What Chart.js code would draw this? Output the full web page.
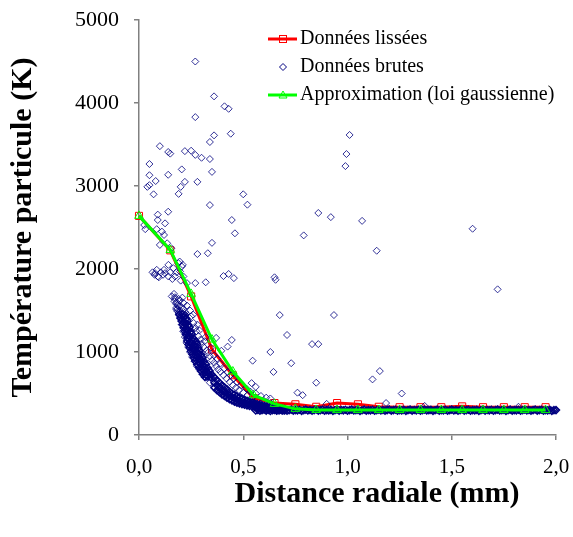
<!DOCTYPE html>
<html lang="fr">
<head>
<meta charset="UTF-8">
<title>Température particule</title>
<script src="https://cdn.jsdelivr.net/npm/chart.js"></script>
<style>
  body { margin: 0; background: #ffffff; }
  #chart { display: block; }
</style>
</head>
<body>
<canvas id="chart" width="573" height="537"></canvas>
<script>
// Axes
const xTicks = [0, 0.5, 1, 1.5, 2];
const xTickLabels = ['0,0', '0,5', '1,0', '1,5', '2,0'];
const yTicks = [0, 1000, 2000, 3000, 4000, 5000];
const yTickLabels = ['0', '1000', '2000', '3000', '4000', '5000'];

// Données lissées
const smoothX = [0, 0.15, 0.25, 0.35, 0.45, 0.55, 0.65, 0.75, 0.85, 0.95, 1.05, 1.15, 1.25, 1.35, 1.45, 1.55, 1.65, 1.75, 1.85, 1.95];
const smoothY = [2640, 2225, 1670, 1030, 720, 445, 385, 370, 340, 385, 370, 340, 335, 335, 335, 345, 335, 335, 335, 335];

// Approximation (loi gaussienne)
const gaussX = smoothX;
const gaussY = [2640, 2230, 1700, 1150, 765, 480, 375, 315, 302, 300, 300, 300, 300, 300, 300, 300, 300, 300, 300, 300];

// Données brutes : points isolés
const rawSparse = [
  [0.27,4500],[0.36,4080],[0.41,3960],[0.43,3930],[0.27,3830],[0.36,3610],[0.44,3630],[0.34,3530],
  [0.10,3480],[0.14,3410],[0.15,3390],[0.22,3420],[0.25,3425],[0.27,3375],[0.30,3340],[0.34,3325],
  [0.05,3265],[0.205,3200],[0.35,3170],[0.05,3130],[0.14,3135],[0.08,3060],[0.05,3010],[0.04,2990],
  [0.22,3050],[0.20,2990],[0.19,2905],[0.28,3050],[0.07,2900],[0.50,2900],[0.52,2775],[0.34,2770],
  [0.14,2690],[0.09,2655],[0.09,2590],[0.125,2550],[0.445,2590],[0.03,2480],[0.025,2530],[0.085,2480],
  [0.11,2450],[0.12,2410],[0.46,2430],
  [1.01,3615],[0.995,3385],[0.99,3240],[0.86,2675],[0.92,2625],[1.07,2580],[0.79,2405],[1.60,2485],
  [1.14,2220],[1.72,1755],[0.935,1445],[0.83,1095],[0.86,1095],[1.155,770],[1.12,670],[0.85,630],
  [0.65,1900],[0.655,1870],[0.675,1445],[0.71,1205],[0.63,1000],[0.73,865],[0.645,760],[0.76,510],
  [0.785,480],[0.63,440],[0.90,375],[1.185,385],[1.26,500],[1.37,350],[1.82,340],
  [0.35,2315],[0.28,2180],[0.33,2190],[0.405,1915],[0.43,1940],[0.455,1890],[0.32,1840],[0.27,1830],
  [0.445,1145],[0.425,1065],[0.37,1170],[0.545,895],[0.395,1015],[0.54,625],[0.56,580]
];

// Données brutes : amas vers 2000 K
const rawCluster = [
  [0.065,1960],[0.075,1930],[0.085,1990],[0.095,1900],[0.105,1960],[0.115,1930],[0.12,1990],[0.125,1950],
  [0.141,2050],[0.165,2010],[0.141,1910],[0.189,2070],[0.205,2030],[0.197,1970],[0.173,1910],[0.213,1910],
  [0.077,1950],[0.09,1910],[0.10,2290],[0.135,2310],[0.155,2250],[0.195,2090],[0.21,2050],[0.23,1830],
  [0.157,1670],[0.17,1610],[0.18,1510],[0.185,1490],[0.19,1550],[0.15,1960],[0.18,1960],[0.16,1880],[0.20,1860]
];

// Données brutes : points clairsemés autour de la bande
const rawHalo = [
  [0.172,1660],[0.19,1640],[0.208,1655],[0.18,1600],[0.197,1620],[0.214,1590],[0.186,1565],[0.203,1545],
  [0.178,1530],[0.195,1500],[0.212,1515],[0.222,1480],[0.20,1470],
  [0.23,1560],[0.245,1500],[0.25,1430],[0.262,1350],[0.27,1290],[0.275,1250],[0.285,1190],[0.295,1150],
  [0.30,1100],[0.31,1060],[0.325,1020],[0.33,990],[0.34,950],[0.35,900],[0.36,870],[0.37,830],
  [0.38,790],[0.39,760],[0.405,720],[0.42,680],[0.435,640],[0.45,600],[0.465,570],[0.48,540],
  [0.50,510],[0.52,480],[0.545,460],[0.57,430],[0.60,410],[0.63,385],
  [0.26,1450],[0.28,1330],[0.29,1260],[0.315,1130],[0.32,1180],[0.345,1050],[0.36,960],[0.375,920],
  [0.39,860],[0.41,800],[0.425,760],[0.44,720],[0.455,680],[0.47,640],[0.49,600],[0.515,560],
  [0.535,520],[0.56,500],[0.585,470],[0.61,450],
  [0.168,1700],[0.172,1640],[0.178,1580],[0.185,1520],[0.19,1470],[0.198,1420],[0.205,1330],[0.212,1250],
  [0.22,1180],[0.228,1110],[0.236,1060],[0.245,1000],[0.255,940],[0.266,890],[0.278,830],[0.29,790],
  [0.305,730],[0.32,690],[0.34,630],[0.36,580],[0.38,550],[0.40,520],[0.42,480],[0.44,440],
  [0.46,420],[0.49,385],[0.52,360],[0.56,335],[0.60,310],[0.64,295]
];

// Données brutes : coeur dense de la décroissance
const rawCore = [
  [0.193,1450],[0.207,1455],[0.221,1445],
  [0.199,1408],[0.213,1415],[0.227,1405],
  [0.204,1372],[0.218,1365],[0.232,1375],
  [0.209,1330],[0.223,1336],[0.237,1325],
  [0.214,1292],[0.228,1285],[0.242,1295],
  [0.22,1250],[0.234,1256],[0.248,1245],
  [0.225,1212],[0.239,1205],[0.253,1215],
  [0.232,1170],[0.246,1176],[0.26,1165],
  [0.231,1132],[0.245,1125],[0.259,1135],[0.273,1128],
  [0.237,1090],[0.251,1096],[0.265,1085],[0.279,1092],
  [0.243,1052],[0.257,1045],[0.271,1055],[0.285,1048],
  [0.249,1010],[0.263,1016],[0.277,1005],[0.291,1012],
  [0.256,972],[0.27,965],[0.284,975],[0.298,968],
  [0.263,930],[0.277,936],[0.291,925],[0.305,932],
  [0.27,892],[0.284,885],[0.298,895],[0.312,888],
  [0.279,850],[0.293,856],[0.307,845],[0.321,852],
  [0.288,812],[0.302,805],[0.316,815],[0.33,808],
  [0.297,770],[0.311,776],[0.325,765],[0.339,772],
  [0.307,732],[0.321,725],[0.335,735],[0.349,728],
  [0.316,700],[0.33,706],[0.344,695],[0.358,702],
  [0.362,570],[0.362,630],[0.362,690],
  [0.374,540],[0.374,600],[0.374,660],
  [0.386,515],[0.386,572],[0.386,630],
  [0.398,490],[0.398,545],[0.398,600],
  [0.41,470],[0.41,522],[0.41,575],
  [0.422,450],[0.422,500],[0.422,550],
  [0.434,430],[0.434,475],[0.434,520],
  [0.446,415],[0.446,458],[0.446,500],
  [0.458,402],[0.458,442],[0.458,485],
  [0.47,390],[0.47,425],[0.47,465],
  [0.482,380],[0.482,410],[0.482,450],
  [0.494,372],[0.494,400],[0.494,438],
  [0.506,364],[0.506,390],[0.506,425],
  [0.518,356],[0.518,382],[0.518,412],
  [0.53,350],[0.53,375],[0.53,402],
  [0.542,344],[0.542,367],[0.542,392],
  [0.554,338],[0.554,359],[0.554,383],
  [0.566,332],[0.566,352],[0.566,374],
  [0.578,326],[0.578,345],[0.578,365],
  [0.59,320],[0.59,339],[0.59,357],
  [0.602,316],[0.602,333],[0.602,350],
  [0.614,312],[0.614,328],[0.614,344],
  [0.626,308],[0.626,323],[0.626,338],
  [0.638,305],[0.638,319],[0.638,333],
  [0.65,302],[0.65,315],[0.65,328],
  [0.662,300],[0.662,312],[0.662,323],
  [0.674,298],[0.674,309],[0.674,319],
  [0.686,297],[0.686,306],[0.686,315],
  [0.698,296],[0.698,304],[0.698,312]
];

// Données brutes : palier vers 300 K
const rawFlat = [
  [0.56,296],[0.57,303],[0.58,292],[0.59,300],[0.60,306],[0.61,294],[0.62,301],[0.63,289],[0.64,298],[0.65,305],
  [0.66,293],[0.67,300],[0.68,307],[0.69,295],[0.70,301],[0.71,292],[0.72,299],[0.73,306],[0.74,294],[0.75,300],
  [0.76,297],[0.77,304],[0.78,291],[0.79,299],[0.80,306],[0.81,295],[0.82,301],[0.83,293],[0.84,300],[0.85,307],
  [0.86,294],[0.87,299],[0.88,305],[0.89,292],[0.90,300],[0.91,296],[0.92,303],[0.93,291],[0.94,299],[0.95,306],
  [0.96,294],[0.97,301],[0.98,297],[0.99,304],[1.00,292],[1.01,300],[1.02,306],[1.03,295],[1.04,299],[1.05,303],
  [1.06,291],[1.07,298],[1.08,305],[1.09,294],[1.10,300],[1.11,297],[1.12,304],[1.13,292],[1.14,299],[1.15,306],
  [1.16,295],[1.17,301],[1.18,293],[1.19,300],[1.20,307],[1.21,294],[1.22,299],[1.23,304],[1.24,292],[1.25,300],
  [1.26,296],[1.27,303],[1.28,291],[1.29,299],[1.30,306],[1.31,294],[1.32,301],[1.33,297],[1.34,304],[1.35,292],
  [1.36,300],[1.37,306],[1.38,295],[1.39,299],[1.40,303],[1.41,291],[1.42,298],[1.43,305],[1.44,294],[1.45,300],
  [1.46,297],[1.47,304],[1.48,292],[1.49,299],[1.50,306],[1.51,295],[1.52,301],[1.53,293],[1.54,300],[1.55,307],
  [1.56,294],[1.57,299],[1.58,304],[1.59,292],[1.60,300],[1.61,296],[1.62,303],[1.63,291],[1.64,299],[1.65,306],
  [1.66,294],[1.67,301],[1.68,297],[1.69,304],[1.70,292],[1.71,300],[1.72,306],[1.73,295],[1.74,299],[1.75,303],
  [1.76,291],[1.77,298],[1.78,305],[1.79,294],[1.80,300],[1.81,297],[1.82,304],[1.83,292],[1.84,299],[1.85,306],
  [1.86,295],[1.87,301],[1.88,293],[1.89,300],[1.90,307],[1.91,294],[1.92,299],[1.93,304],[1.94,292],[1.95,300],
  [1.96,296],[1.97,303],[1.98,291],[1.99,299],[2.00,300]
];

const legendLabels = ['Données lissées', 'Données brutes', 'Approximation (loi gaussienne)'];
const xTitle = 'Distance radiale (mm)';
const yTitle = 'Température particule (K)';

const RED = '#ff0000';
const NAVY = '#000080';
const GREEN = '#00ff00';
const FONT = '"Liberation Serif", "Times New Roman", serif';

const toPts = (xs, ys) => xs.map((x, i) => ({ x: x, y: ys[i] }));
const pairs = list => list.map(p => ({ x: p[0], y: p[1] }));

// legende dessinee a la main (trait + marqueur, comme dans Excel)
const legendPlugin = {
  id: 'excelLegend',
  afterDraw(chart) {
    const ctx = chart.ctx;
    ctx.save();
    const x0 = 268, x1 = 297, xm = 283, tx = 300;
    const rows = [39, 67, 95];

    // Données lissées
    ctx.strokeStyle = RED; ctx.lineWidth = 3;
    ctx.beginPath(); ctx.moveTo(x0, rows[0]); ctx.lineTo(x1, rows[0]); ctx.stroke();
    ctx.lineWidth = 1;
    ctx.strokeRect(xm - 3.5, rows[0] - 3.5, 7, 7);

    // Données brutes
    ctx.strokeStyle = NAVY; ctx.lineWidth = 1;
    ctx.beginPath();
    ctx.moveTo(xm, rows[1] - 3.5); ctx.lineTo(xm + 3.5, rows[1]);
    ctx.lineTo(xm, rows[1] + 3.5); ctx.lineTo(xm - 3.5, rows[1]); ctx.closePath();
    ctx.stroke();

    // Approximation
    ctx.strokeStyle = GREEN; ctx.lineWidth = 3;
    ctx.beginPath(); ctx.moveTo(x0, rows[2]); ctx.lineTo(x1, rows[2]); ctx.stroke();
    ctx.lineWidth = 1;
    ctx.beginPath();
    ctx.moveTo(xm, rows[2] - 4); ctx.lineTo(xm + 4, rows[2] + 3);
    ctx.lineTo(xm - 4, rows[2] + 3); ctx.closePath(); ctx.stroke();

    ctx.fillStyle = '#000000';
    ctx.font = '20px ' + FONT;
    ctx.textAlign = 'left';
    ctx.textBaseline = 'middle';
    legendLabels.forEach((t, i) => ctx.fillText(t, tx, rows[i]));

    // titre de l'axe x
    ctx.font = 'bold 30px ' + FONT;
    ctx.textAlign = 'center';
    ctx.fillText(xTitle, 377, 494);
    ctx.restore();
  }
};

const rawStyle = {
  showLine: false,
  pointStyle: 'rectRot',
  pointRadius: 3.5,
  pointBackgroundColor: 'rgba(255,255,255,0)',
  clip: false,
  order: 2
};

new Chart(document.getElementById('chart'), {
  type: 'scatter',
  data: {
    datasets: [
      {
        label: legendLabels[0],
        data: toPts(smoothX, smoothY),
        showLine: true,
        borderColor: RED,
        borderWidth: 3,
        pointStyle: 'rect',
        pointRadius: 5,
        pointBorderColor: RED,
        pointBackgroundColor: 'rgba(255,255,255,0)',
        pointBorderWidth: 1,
        clip: false,
        order: 3
      },
      Object.assign({
        label: legendLabels[1],
        data: pairs([...rawSparse, ...rawCluster, ...rawHalo]),
        pointBorderColor: 'rgba(0,0,128,0.8)',
        pointBorderWidth: 1
      }, rawStyle),
      Object.assign({
        label: legendLabels[1],
        data: pairs([...rawCore, ...rawFlat]),
        pointBorderColor: NAVY,
        pointBorderWidth: 1.5
      }, rawStyle),
      {
        label: legendLabels[2],
        data: toPts(gaussX, gaussY),
        showLine: true,
        borderColor: GREEN,
        borderWidth: 3,
        pointStyle: 'triangle',
        pointRadius: 5,
        pointBorderColor: GREEN,
        pointBackgroundColor: 'rgba(255,255,255,0)',
        pointBorderWidth: 1,
        clip: false,
        order: 1
      }
    ]
  },
  options: {
    responsive: false,
    animation: false,
    devicePixelRatio: 1,
    layout: { padding: { left: 0, right: 17, top: 20, bottom: 0 } },
    plugins: {
      legend: { display: false },
      tooltip: { enabled: false }
    },
    scales: {
      x: {
        type: 'linear',
        min: 0,
        max: 2,
        // taille fixe de l'axe, sans la marge auto des etiquettes
        afterFit: s => { s.height = 102; s.paddingLeft = 0; s.paddingRight = 0; },
        afterBuildTicks: s => { s.ticks = xTicks.map(v => ({ value: v })); },
        ticks: {
          padding: 15,
          color: '#000000',
          font: { family: FONT, size: 21 },
          callback: (v, i) => xTickLabels[i]
        },
        grid: { drawOnChartArea: false, drawTicks: true, tickLength: 5, color: '#808080', lineWidth: 1.5 },
        border: { display: true, color: '#808080', width: 1.5 }
      },
      y: {
        type: 'linear',
        min: 0,
        max: 5000,
        afterFit: s => { s.width = 139; s.paddingTop = 0; s.paddingBottom = 0; },
        afterBuildTicks: s => { s.ticks = yTicks.map(v => ({ value: v })); },
        ticks: {
          padding: 15,
          color: '#000000',
          font: { family: FONT, size: 22 },
          callback: (v, i) => yTickLabels[i]
        },
        grid: { drawOnChartArea: false, drawTicks: true, tickLength: 5, color: '#808080', lineWidth: 1.5 },
        border: { display: true, color: '#808080', width: 1.5 },
        title: {
          display: true,
          text: yTitle,
          color: '#000000',
          font: { family: FONT, size: 30, weight: 'bold' },
          padding: { top: 5, bottom: 0 }
        }
      }
    }
  },
  plugins: [legendPlugin]
});
</script>
</body>
</html>
